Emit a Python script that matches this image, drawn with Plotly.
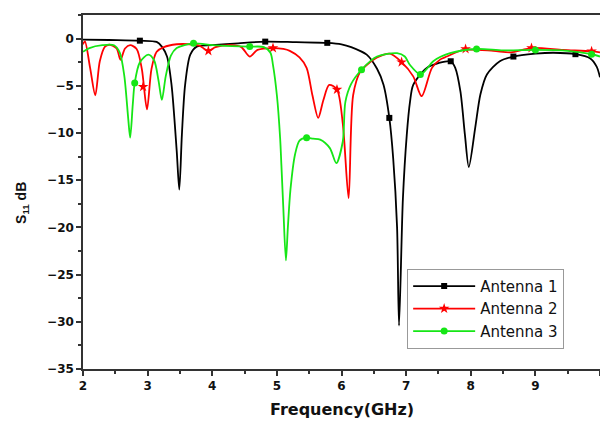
import plotly.graph_objects as go

# ---- data ----
freq_a1 = [2.00, 2.40, 2.88, 3.14, 3.22, 3.30, 3.37, 3.45, 3.49, 3.53, 3.58, 3.66, 3.76, 4.00,
           4.40, 4.82, 5.30, 5.78, 6.00, 6.15, 6.39, 6.55, 6.65, 6.74, 6.80, 6.86, 6.89, 6.95,
           7.01, 7.06, 7.11, 7.32, 7.50, 7.69, 7.76, 7.84, 7.91, 7.97, 8.07, 8.15, 8.25, 8.45,
           8.66, 9.00, 9.28, 9.62, 9.85, 9.95, 10.00]
s11_a1 = [-0.10, -0.15, -0.22, -0.35, -0.85, -1.9, -4.9, -11.9, -16.0, -10.2, -4.9, -1.7, -0.85, -0.7,
          -0.5, -0.32, -0.38, -0.45, -0.6, -0.9, -1.7, -3.2, -4.9, -8.4, -12.7, -20.0, -30.4, -17.0,
          -10.2, -6.7, -4.9, -3.1, -2.6, -2.4, -3.1, -5.6, -10.2, -13.6, -9.4, -5.9, -3.8, -2.4,
          -1.9, -1.6, -1.5, -1.65, -2.1, -3.0, -4.1]

freq_a2 = [2.00, 2.03, 2.11, 2.19, 2.26, 2.34, 2.41, 2.52, 2.58, 2.65, 2.73, 2.83, 2.91, 2.99,
           3.06, 3.14, 3.25, 3.45, 3.65, 3.80, 3.94, 4.05, 4.30, 4.45, 4.58, 4.70, 4.94, 5.10,
           5.20, 5.35, 5.46, 5.55, 5.64, 5.72, 5.81, 5.93, 6.02, 6.11, 6.18, 6.29, 6.39, 6.55,
           6.75, 6.93, 7.11, 7.24, 7.40, 7.53, 7.63, 7.89, 8.35, 8.62, 8.94, 9.43, 9.87, 10.00]
s11_a2 = [-0.6, -0.3, -3.1, -6.0, -2.4, -0.85, -0.65, -1.05, -2.25, -1.05, -0.7, -1.1, -3.2, -7.5,
          -3.2, -1.4, -0.9, -0.6, -0.6, -0.75, -1.3, -0.9, -0.7, -0.9, -1.9, -1.2, -1.0, -1.1,
          -1.3, -2.0, -3.1, -6.0, -8.4, -6.5, -4.9, -5.4, -9.0, -16.9, -6.0, -3.5, -2.8, -2.0,
          -1.6, -2.5, -4.0, -6.1, -3.1, -2.2, -1.9, -1.2, -1.3, -1.45, -1.0, -1.2, -1.35, -1.45]

freq_a3 = [2.00, 2.10, 2.30, 2.48, 2.57, 2.64, 2.70, 2.73, 2.77, 2.80, 2.88, 3.01, 3.10, 3.17,
           3.22, 3.28, 3.36, 3.45, 3.71, 4.00, 4.30, 4.58, 4.80, 4.90, 4.94, 5.00, 5.05, 5.07,
           5.10, 5.14, 5.17, 5.21, 5.28, 5.35, 5.46, 5.56, 5.67, 5.82, 5.92, 6.02, 6.06, 6.15,
           6.31, 6.55, 6.86, 6.98, 7.06, 7.22, 7.32, 7.42, 7.68, 8.09, 8.50, 9.00, 9.50, 9.87, 10.00]
s11_a3 = [-1.4, -1.0, -0.7, -0.7, -1.5, -4.0, -8.5, -10.5, -7.0, -4.7, -2.5, -1.7, -2.3, -4.5,
          -6.5, -4.0, -1.8, -1.0, -0.5, -0.7, -0.8, -0.85, -0.9, -1.5, -2.8, -6.0, -10.5, -13.4,
          -18.0, -23.5, -20.0, -16.0, -12.3, -10.8, -10.5, -10.6, -10.7, -11.6, -13.2, -10.9, -6.7, -4.8,
          -3.3, -1.9, -1.55, -1.9, -2.8, -3.8, -3.2, -2.4, -1.55, -1.1, -1.25, -1.2, -1.3, -1.65, -1.9]

# marker positions (sparse symbols drawn on the curves)
mk_freq_a1 = [2.88, 4.82, 5.78, 6.74, 7.69, 8.66, 9.62]
mk_s11_a1 = [-0.22, -0.32, -0.45, -8.4, -2.4, -1.9, -1.65]
mk_freq_a2 = [2.93, 3.94, 4.94, 5.93, 6.93, 7.92, 8.94, 9.87]
mk_s11_a2 = [-5.1, -1.3, -1.0, -5.4, -2.5, -1.1, -1.0, -1.35]
mk_freq_a3 = [2.80, 3.71, 4.58, 5.46, 6.31, 7.22, 8.09, 9.00, 9.87]
mk_s11_a3 = [-4.7, -0.5, -0.85, -10.5, -3.3, -3.8, -1.1, -1.2, -1.65]

names = ["Antenna 1", "Antenna 2", "Antenna 3"]
colors = ["#000000", "#ff0000", "#16e616"]
symbols = ["square", "star", "circle"]
msizes = [6, 8, 7]

series = [(freq_a1, s11_a1, mk_freq_a1, mk_s11_a1),
          (freq_a2, s11_a2, mk_freq_a2, mk_s11_a2),
          (freq_a3, s11_a3, mk_freq_a3, mk_s11_a3)]

fig = go.Figure()
for i, (fx, fy, mx, my) in enumerate(series):
    fig.add_trace(go.Scatter(x=fx, y=fy, mode="lines", showlegend=False,
                             line=dict(color=colors[i], width=1.8, shape="spline", smoothing=0.8),
                             hoverinfo="skip"))
    fig.add_trace(go.Scatter(x=mx, y=my, mode="markers", showlegend=False,
                             marker=dict(color=colors[i], symbol=symbols[i], size=msizes[i])))
for i in range(3):
    fig.add_trace(go.Scatter(x=[None], y=[None], mode="lines+markers", name=names[i],
                             line=dict(color=colors[i], width=1.8),
                             marker=dict(color=colors[i], symbol=symbols[i], size=msizes[i])))

axis_common = dict(showline=True, linecolor="#333333", linewidth=1.5, mirror=True,
                   showgrid=False, zeroline=False, ticks="outside", ticklen=5, tickwidth=1.5,
                   tickcolor="#333333",
                   tickfont=dict(family="DejaVu Sans", size=12, color="#111111", weight="bold"))

# the page body adds an 8px margin, so the figure is 8px smaller than the window
fig.update_layout(
    width=600, height=417,
    margin=dict(l=75, r=8, t=5, b=56),
    paper_bgcolor="white", plot_bgcolor="white",
    xaxis=dict(range=[2, 10], dtick=1, tick0=2,
               minor=dict(dtick=0.5, ticks="outside", ticklen=3, tickwidth=1.5, tickcolor="#333333"),
               **axis_common),
    yaxis=dict(range=[-35, 2.5], dtick=5, tick0=0,
               minor=dict(dtick=2.5, ticks="outside", ticklen=3, tickwidth=1.5, tickcolor="#333333"),
               **axis_common),
    legend=dict(x=0.627, y=0.283, xanchor="left", yanchor="top",
                bgcolor="white", bordercolor="#999999", borderwidth=1,
                font=dict(family="DejaVu Sans", size=15, color="#111111"),
                itemwidth=62, tracegroupgap=0),
    showlegend=True,
)

fig.add_annotation(text="Frequency(GHz)", xref="paper", yref="paper", x=0.5, y=-0.115,
                   xanchor="center", yanchor="middle", showarrow=False,
                   font=dict(family="DejaVu Sans", size=16, color="#111111", weight="bold"))
fig.add_annotation(text="S<sub>11</sub> dB", xref="paper", yref="paper", x=-0.118, y=0.469,
                   xanchor="center", yanchor="middle", showarrow=False, textangle=-90,
                   font=dict(family="Liberation Sans", size=14, color="#111111", weight="bold"))

fig.write_html("out.html")
